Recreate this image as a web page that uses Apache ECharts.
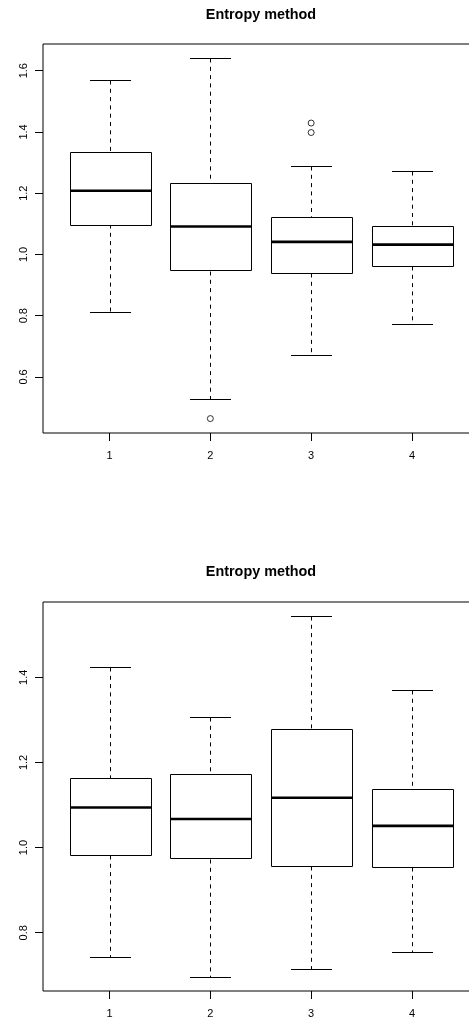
<!DOCTYPE html>
<html>
<head>
<meta charset="utf-8">
<script src="https://cdn.jsdelivr.net/npm/echarts@6/dist/echarts.min.js"></script>
<style>
  html, body { margin: 0; padding: 0; background: #fff; }
  #chart { width: 469px; height: 1021px; }
</style>
</head>
<body>
<div id="chart"></div>
<script>
const groups = [1, 2, 3, 4]

// upper panel
const topLow = [0.813, 0.527, 0.672, 0.772]
const topQ1 = [1.099, 0.947, 0.940, 0.963]
const topMedian = [1.208, 1.091, 1.041, 1.032]
const topQ3 = [1.336, 1.232, 1.122, 1.094]
const topHigh = [1.569, 1.640, 1.290, 1.271]
const topOutliers = [[2, 0.464], [3, 1.429], [3, 1.398]]
const topTicks = [0.6, 0.8, 1.0, 1.2, 1.4, 1.6]

// lower panel
const bottomLow = [0.744, 0.697, 0.715, 0.755]
const bottomQ1 = [0.982, 0.974, 0.957, 0.954]
const bottomMedian = [1.094, 1.067, 1.117, 1.051]
const bottomQ3 = [1.164, 1.172, 1.279, 1.138]
const bottomHigh = [1.423, 1.306, 1.543, 1.370]
const bottomOutliers = []
const bottomTicks = [0.8, 1.0, 1.2, 1.4]

const titleText = 'Entropy method'
const font = '"Liberation Sans", Arial, Helvetica, sans-serif'

// R style range: data range extended by 4%
const rRange = (lists) => {
  const all = [].concat(...lists)
  const lo = Math.min(...all)
  const hi = Math.max(...all)
  const pad = (hi - lo) * 0.04
  return [lo - pad, hi + pad]
}

const boxRows = (low, q1, med, q3, high) =>
  groups.map((g, i) => [g, low[i], q1[i], med[i], q3[i], high[i]])

const crisp = v => Math.round(v) + 0.5

function renderBox(params, api) {
  const x = api.value(0)
  const lo = api.coord([x, api.value(1)])
  const q1 = api.coord([x, api.value(2)])
  const md = api.coord([x, api.value(3)])
  const q3 = api.coord([x, api.value(4)])
  const hi = api.coord([x, api.value(5)])
  const half = api.size([0.8, 0])[0] / 2
  const cap = half / 2
  const cx = crisp(lo[0])
  const solid = { stroke: '#000', lineWidth: 1 }
  const dashed = { stroke: '#000', lineWidth: 1, lineDash: [4, 4.3] }
  return {
    type: 'group',
    children: [
      { type: 'line', shape: { x1: cx, y1: crisp(hi[1]), x2: cx, y2: crisp(q3[1]) }, style: dashed },
      { type: 'line', shape: { x1: cx, y1: crisp(q1[1]), x2: cx, y2: crisp(lo[1]) }, style: dashed },
      {
        type: 'rect',
        shape: {
          x: crisp(cx - half),
          y: crisp(q3[1]),
          width: Math.round(half * 2),
          height: Math.round(q1[1] - q3[1])
        },
        style: { fill: '#fff', stroke: '#000', lineWidth: 1 }
      },
      { type: 'line', shape: { x1: Math.round(cx - half), y1: md[1], x2: Math.round(cx + half) + 1, y2: md[1] }, style: { stroke: '#000', lineWidth: 2.6 } },
      { type: 'line', shape: { x1: Math.round(cx - cap), y1: crisp(hi[1]), x2: Math.round(cx + cap), y2: crisp(hi[1]) }, style: solid },
      { type: 'line', shape: { x1: Math.round(cx - cap), y1: crisp(lo[1]), x2: Math.round(cx + cap), y2: crisp(lo[1]) }, style: solid }
    ]
  }
}

const topRange = rRange([topLow, topHigh, topOutliers.map(p => p[1])])
const bottomRange = rRange([bottomLow, bottomHigh, bottomOutliers.map(p => p[1])])

const panels = [
  { top: 44, titleTop: 3, range: topRange, ticks: topTicks, rows: boxRows(topLow, topQ1, topMedian, topQ3, topHigh), outliers: topOutliers },
  { top: 602, titleTop: 560, range: bottomRange, ticks: bottomTicks, rows: boxRows(bottomLow, bottomQ1, bottomMedian, bottomQ3, bottomHigh), outliers: bottomOutliers }
]

const chart = echarts.init(document.getElementById('chart'), null, { renderer: 'canvas' })

chart.setOption({
  backgroundColor: '#fff',
  animation: false,
  title: panels.map(p => ({
    text: titleText,
    left: 256,
    top: p.titleTop,
    textAlign: 'center',
    textStyle: { fontFamily: font, fontSize: 14.4, fontWeight: 'bold', color: '#000' }
  })),
  grid: panels.map(p => ({
    left: 43,
    width: 435.5,
    top: p.top,
    height: 389,
    outerBoundsMode: 'none',
    containLabel: false,
    show: true,
    borderColor: '#000',
    borderWidth: 1,
    backgroundColor: 'transparent'
  })),
  xAxis: panels.map((p, i) => ({
    type: 'value',
    gridIndex: i,
    min: 0.34,
    max: 4.66,
    axisLine: { show: false },
    splitLine: { show: false },
    axisTick: { show: true, length: 8, customValues: groups, lineStyle: { color: '#000' } },
    axisLabel: { customValues: groups, margin: 17, fontFamily: font, fontSize: 11, color: '#000' }
  })),
  yAxis: panels.map((p, i) => ({
    type: 'value',
    gridIndex: i,
    min: p.range[0],
    max: p.range[1],
    axisLine: { show: false },
    splitLine: { show: false },
    axisTick: { show: true, length: 8, customValues: p.ticks, lineStyle: { color: '#000' } },
    axisLabel: {
      customValues: p.ticks,
      rotate: 90,
      margin: 14,
      fontFamily: font,
      fontSize: 11,
      color: '#000',
      formatter: v => v.toFixed(1)
    }
  })),
  series: panels.flatMap((p, i) => [
    {
      type: 'custom',
      xAxisIndex: i,
      yAxisIndex: i,
      renderItem: renderBox,
      encode: { x: 0, y: [1, 2, 3, 4, 5] },
      data: p.rows,
      z: 2
    },
    {
      type: 'scatter',
      xAxisIndex: i,
      yAxisIndex: i,
      symbol: 'circle',
      symbolSize: 6,
      itemStyle: { color: '#fff', borderColor: '#000', borderWidth: 1 },
      data: p.outliers,
      z: 3
    }
  ])
})
</script>
</body>
</html>
